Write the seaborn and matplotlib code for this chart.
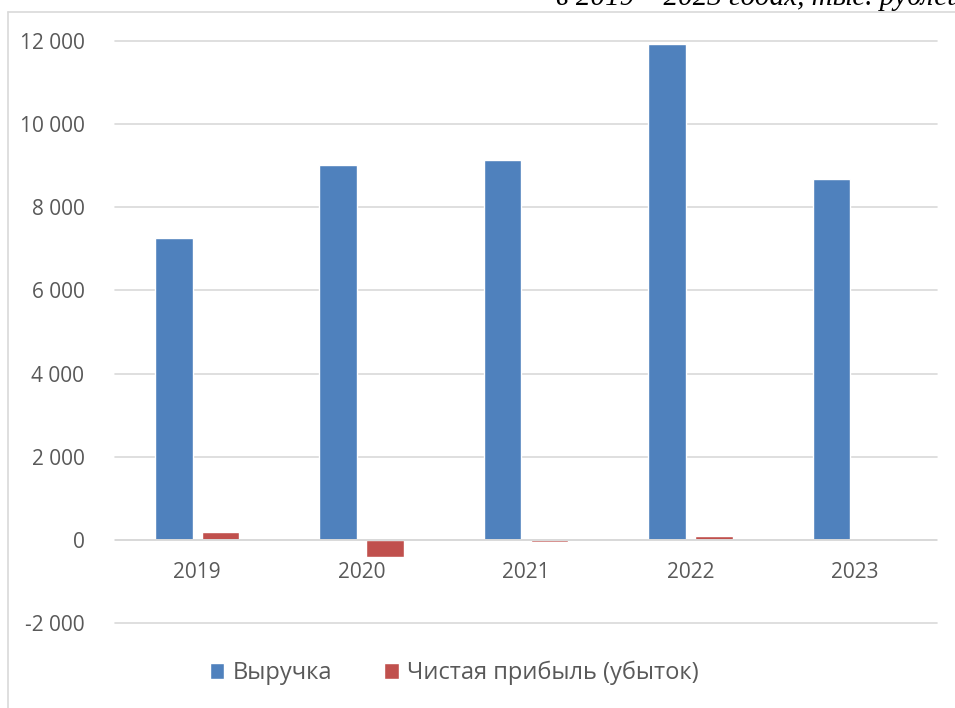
import pandas as pd
import seaborn as sns
import matplotlib.pyplot as plt
from matplotlib.lines import Line2D
from matplotlib.ticker import FuncFormatter, MultipleLocator

# Data (thousand rubles)
years = ['2019', '2020', '2021', '2022', '2023']
revenue = [7260, 9010, 9130, 11920, 8680]
net_profit = [190, -410, -50, 100, 5]
series_names = ['Выручка', 'Чистая прибыль (убыток)']

df = pd.DataFrame({
    'year': years * 2,
    'value': revenue + net_profit,
    'series': [series_names[0]] * len(years) + [series_names[1]] * len(years),
})

sns.set_style('white')
plt.rcParams['font.family'] = ['Open Sans', 'DejaVu Sans']
text_color = '#595959'
grid_color = '#D9D9D9'

fig = plt.figure(figsize=(9.55, 7.08), dpi=100)
ax = fig.add_axes([115 / 955, 1 - 623 / 708, 822 / 955, (623 - 41) / 708])

sns.barplot(data=df, x='year', y='value', hue='series',
            palette=['#4F81BD', '#C0504D'], width=0.57, gap=0.2,
            saturation=1, ax=ax, zorder=3)

ax.set_ylim(-2000, 12000)
ax.set_xlim(-0.5, 4.5)
ax.yaxis.set_major_locator(MultipleLocator(2000))
ax.yaxis.set_major_formatter(FuncFormatter(lambda v, p: f'{v:,.0f}'.replace(',', ' ')))
for v in range(-2000, 12001, 2000):
    ax.axhline(v, color=grid_color, linewidth=1.2, zorder=0, clip_on=False)
ax.axhline(0, color=grid_color, linewidth=1.4, zorder=4)
for s in ax.spines.values():
    s.set_visible(False)
ax.set_xlabel('')
ax.set_ylabel('')
ax.tick_params(axis='y', colors=text_color, labelsize=15, length=0, pad=22)
ax.set_xticks([])
# year labels sit just below the zero line
for i, y in enumerate(years):
    ax.text(i, -780, y, ha='center', va='center', fontsize=15, color=text_color)

ax.legend(loc='center', bbox_to_anchor=(454 / 955, 1 - 673 / 708),
          bbox_transform=fig.transFigure, ncol=2, frameon=False,
          fontsize=17, labelcolor=text_color, handlelength=0.62,
          handleheight=0.62, columnspacing=2.2, handletextpad=0.35)

# chart frame (cropped)
fig.add_artist(Line2D([8 / 955, 8 / 955], [0, 1 - 12 / 708], color=grid_color, linewidth=1.2))
fig.add_artist(Line2D([8 / 955, 1], [1 - 12 / 708, 1 - 12 / 708], color=grid_color, linewidth=1.2))

# cropped caption above the chart
fig.text(556 / 955, 1 - 5 / 708, 'в 2019 – 2023 годах, тыс. рублей', ha='left', va='baseline',
         fontsize=21, style='italic', family=['Liberation Serif', 'DejaVu Serif'], color='black')

fig.savefig('out.png', dpi=100)
